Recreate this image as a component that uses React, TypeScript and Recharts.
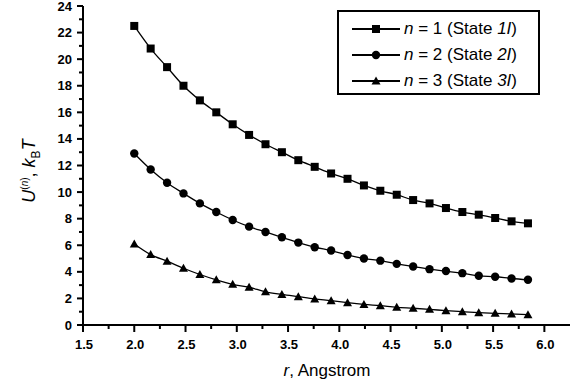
import { LineChart, Line, XAxis, YAxis } from 'recharts'

const rValues = [
  2.0, 2.16, 2.32, 2.48, 2.64, 2.8, 2.96, 3.12, 3.28, 3.44, 3.6, 3.76, 3.92, 4.08, 4.24, 4.4,
  4.56, 4.72, 4.88, 5.04, 5.2, 5.36, 5.52, 5.68, 5.84,
]
const state1 = [
  22.5, 20.8, 19.4, 18.0, 16.9, 16.0, 15.1, 14.3, 13.6, 13.0, 12.4, 11.9, 11.4, 11.0, 10.5, 10.1,
  9.8, 9.4, 9.15, 8.8, 8.5, 8.3, 8.05, 7.8, 7.65,
]
const state2 = [
  12.9, 11.7, 10.7, 9.9, 9.15, 8.5, 7.9, 7.4, 7.0, 6.6, 6.2, 5.85, 5.6, 5.27, 5.0, 4.84,
  4.6, 4.4, 4.2, 4.06, 3.9, 3.7, 3.63, 3.5, 3.4,
]
const state3 = [
  6.1, 5.3, 4.8, 4.27, 3.8, 3.4, 3.06, 2.84, 2.5, 2.3, 2.13, 1.96, 1.83, 1.68, 1.55, 1.45,
  1.33, 1.26, 1.18, 1.08, 1.0, 0.93, 0.88, 0.83, 0.78,
]
const xTicks = [1.5, 1.75, 2, 2.25, 2.5, 2.75, 3, 3.25, 3.5, 3.75, 4, 4.25, 4.5, 4.75, 5, 5.25, 5.5, 5.75, 6]
const yTicks = [0, 1, 2, 3, 4, 5, 6, 7, 8, 9, 10, 11, 12, 13, 14, 15, 16, 17, 18, 19, 20, 21, 22, 23, 24]
const seriesNames = ['1', '2', '3']

const data = rValues.map((r, i) => ({ r, s1: state1[i], s2: state2[i], s3: state3[i] }))

const FONT = 'Liberation Sans, Arial, sans-serif'

function Marker({ cx, cy, kind }: { cx?: number; cy?: number; kind: 'square' | 'circle' | 'triangle' }) {
  if (cx == null || cy == null) return null
  if (kind === 'square') return <rect x={cx - 4} y={cy - 4} width={8} height={8} fill="#000" />
  if (kind === 'circle') return <circle cx={cx} cy={cy} r={4.2} fill="#000" />
  return <polygon points={`${cx},${cy - 4.5} ${cx + 4.5},${cy + 3.5} ${cx - 4.5},${cy + 3.5}`} fill="#000" />
}

// tickSize 0 + tickMargin 11: x/y given here sit 11px off the axis line
function XTick({ x, y, payload }: any) {
  const v = payload.value as number
  const major = Math.abs(v * 2 - Math.round(v * 2)) < 1e-6
  return (
    <g>
      <rect x={x - 1} y={y - 11} width={2} height={major ? 7 : 4} fill="#000" />
      {major && (
        <text x={x + 1} y={y + 13} textAnchor="middle" fontFamily={FONT} fontWeight="bold" fontSize={13} fill="#000">
          {v.toFixed(1)}
        </text>
      )}
    </g>
  )
}

function YTick({ x, y, payload }: any) {
  const v = payload.value as number
  const major = v % 2 === 0
  return (
    <g>
      <rect x={x + (major ? 5 : 7)} y={y - 1} width={major ? 6 : 4} height={2} fill="#000" />
      {major && (
        <text x={x} y={y + 4.5} textAnchor="end" fontFamily={FONT} fontWeight="bold" fontSize={13} fill="#000">
          {v}
        </text>
      )}
    </g>
  )
}

function LegendBox() {
  const kinds: Array<'square' | 'circle' | 'triangle'> = ['square', 'circle', 'triangle']
  return (
    <div
      style={{
        position: 'absolute',
        left: 337,
        top: 10,
        width: 203,
        height: 85,
        border: '2px solid #000',
        boxSizing: 'border-box',
        background: '#fff',
      }}
    >
      {seriesNames.map((n, i) => (
        <div key={n} style={{ position: 'absolute', left: 13, top: 6 + i * 26, height: 22, display: 'flex', alignItems: 'center' }}>
          <svg width={50} height={20}>
            <line x1={0} x2={48} y1={10} y2={10} stroke="#000" strokeWidth={1.8} />
            <Marker cx={24} cy={10} kind={kinds[i]} />
          </svg>
          <span style={{ fontFamily: FONT, fontSize: 17, marginLeft: 2, color: '#000', whiteSpace: 'nowrap' }}>
            <i>n</i> = {n} (State <i>{n}I</i>)
          </span>
        </div>
      ))}
    </div>
  )
}

export default function App() {
  return (
    <div style={{ position: 'absolute', left: 0, top: 0, width: 585, height: 387, background: '#fff' }}>
      <LineChart width={585} height={387} data={data} margin={{ top: 6, right: 15, bottom: 0, left: 0 }}>
        <XAxis
          dataKey="r"
          type="number"
          domain={[1.5, 6.25]}
          ticks={xTicks}
          interval={0}
          height={62}
          tickSize={0}
          tickMargin={11}
          tickLine={false}
          axisLine={{ stroke: '#000', strokeWidth: 2 }}
          tick={<XTick />}
          allowDataOverflow
        />
        <YAxis
          type="number"
          domain={[0, 24]}
          ticks={yTicks}
          interval={0}
          width={83}
          tickSize={0}
          tickMargin={11}
          tickLine={false}
          axisLine={{ stroke: '#000', strokeWidth: 2 }}
          tick={<YTick />}
        />
        <Line dataKey="s1" stroke="#000" strokeWidth={1.3} type="monotone" isAnimationActive={false}
          dot={(p: any) => <Marker key={`a${p.index}`} cx={p.cx} cy={p.cy} kind="square" />} />
        <Line dataKey="s2" stroke="#000" strokeWidth={1.3} type="monotone" isAnimationActive={false}
          dot={(p: any) => <Marker key={`b${p.index}`} cx={p.cx} cy={p.cy} kind="circle" />} />
        <Line dataKey="s3" stroke="#000" strokeWidth={1.3} type="monotone" isAnimationActive={false}
          dot={(p: any) => <Marker key={`c${p.index}`} cx={p.cx} cy={p.cy} kind="triangle" />} />
      </LineChart>
      <LegendBox />
      <div
        style={{
          position: 'absolute',
          left: 0,
          top: 361,
          width: 654,
          textAlign: 'center',
          fontFamily: FONT,
          fontSize: 17,
          color: '#000',
        }}
      >
        <i>r</i>, Angstrom
      </div>
      <div
        style={{
          position: 'absolute',
          left: 31,
          top: 171,
          transform: 'translate(-50%, -50%) rotate(-90deg)',
          fontFamily: FONT,
          fontSize: 18,
          color: '#000',
          whiteSpace: 'nowrap',
        }}
      >
        <i>U</i>
        <sup style={{ fontSize: 10 }}>
          (<i>n</i>)
        </sup>
        , <i>k</i>
        <sub style={{ fontSize: 12 }}>B</sub>
        <i>T</i>
      </div>
    </div>
  )
}
